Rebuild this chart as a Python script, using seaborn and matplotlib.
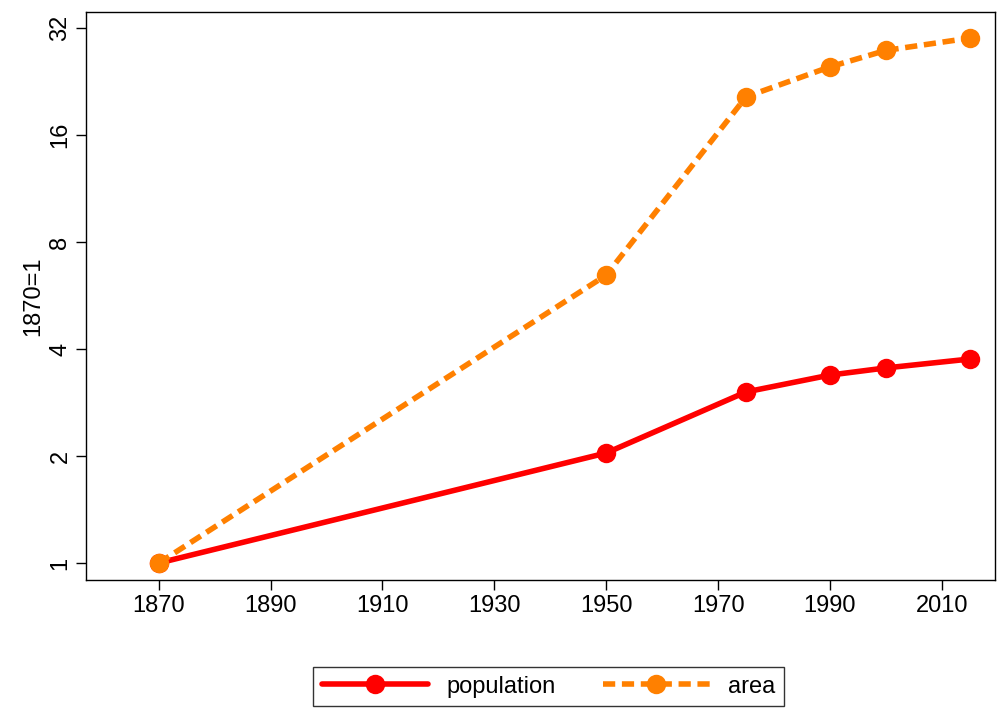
import matplotlib
matplotlib.use("Agg")
import matplotlib.pyplot as plt
import seaborn as sns
import pandas as pd

years = [1870, 1950, 1975, 1990, 2000, 2015]
population = [1.0, 2.04, 3.03, 3.38, 3.54, 3.75]
area = [1.0, 6.46, 20.5, 24.9, 27.7, 30.0]
yticks = [1, 2, 4, 8, 16, 32]
xticks = [1870, 1890, 1910, 1930, 1950, 1970, 1990, 2010]

sns.set_style("ticks")
plt.rcParams['font.family'] = ['Liberation Sans', 'DejaVu Sans']
plt.rcParams['text.color'] = 'black'
plt.rcParams['axes.labelcolor'] = 'black'

fig = plt.figure(figsize=(10, 7.13), dpi=100)
ax = fig.add_axes([0.086, 0.1865, 0.909, 0.7965])

df = pd.DataFrame({"year": years, "population": population, "area": area})
sns.lineplot(data=df, x="year", y="population", ax=ax, color="#ff0000", lw=4,
             marker="o", markersize=14, markeredgewidth=0, label="population")
sns.lineplot(data=df, x="year", y="area", ax=ax, color="#ff8000", lw=4,
             linestyle=(0, (2.2, 1.2)), marker="o", markersize=14, markeredgewidth=0, label="area")

ax.set_yscale("log", base=2)
ax.set_yticks(yticks)
ax.set_yticklabels([str(v) for v in yticks], rotation=90, va="center")
ax.minorticks_off()
ax.set_ylim(2 ** (17 / 107 * -1), 2 ** ((563 - 12) / 107))
ax.set_xticks(xticks)
ax.set_xlim(1857, 2019.5)
ax.set_xlabel("")
ax.set_ylabel("1870=1", fontsize=17, color="black")
ax.tick_params(labelsize=17, length=7, width=1, color="black", labelcolor="black")
for s in ax.spines.values():
    s.set_visible(True)
    s.set_color("black")
    s.set_linewidth(1)

leg = ax.legend(loc="upper center", bbox_to_anchor=(0.509, -0.133), ncol=2, fontsize=17,
                frameon=True, fancybox=False, edgecolor="black", handlelength=4.5,
                columnspacing=2.0, borderpad=0.35, labelcolor="black")
leg.get_frame().set_linewidth(1)

fig.savefig("out.png", dpi=100)
